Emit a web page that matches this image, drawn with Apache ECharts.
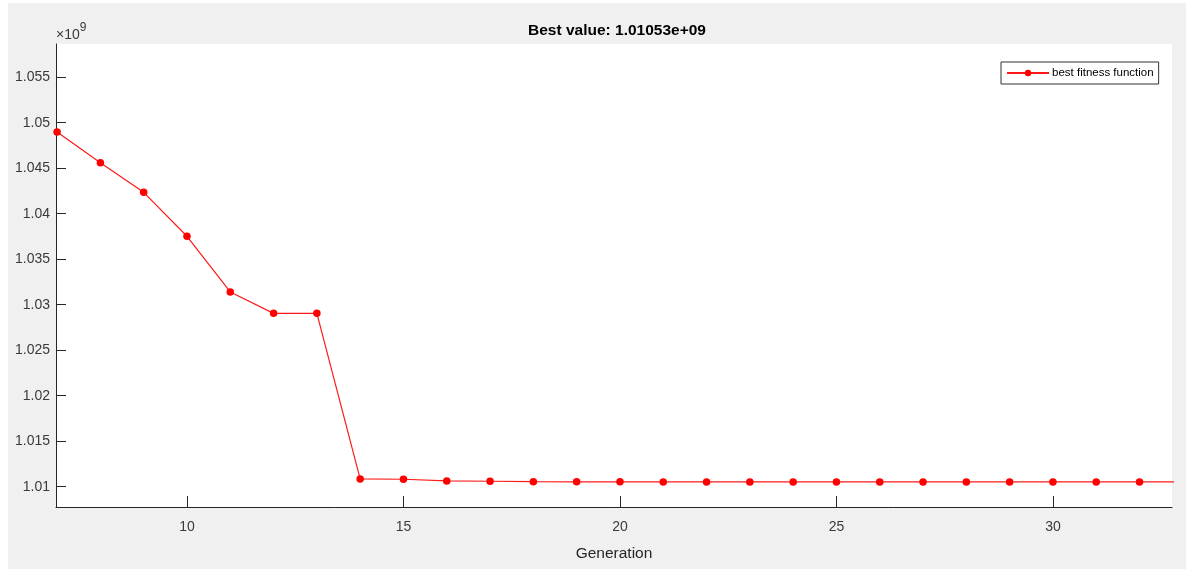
<!DOCTYPE html>
<html style="height: 100%">
<head>
<meta charset="utf-8">
<style>
body { margin: 0; background: #fff; }
#container { position: absolute; left: 8px; top: 3px; width: 1178px; height: 566px; }
</style>
</head>
<body>
<div id="container"></div>
<script src="https://cdn.jsdelivr.net/npm/echarts@6/dist/echarts.min.js"></script>
<script type="text/javascript">
// generation number and best fitness (in units of 1e9)
var generations = [7, 8, 9, 10, 11, 12, 13, 14, 15, 16, 17, 18, 19, 20, 21, 22, 23, 24, 25, 26, 27, 28, 29, 30, 31, 32, 33];
var bestFitness = [1.04898, 1.04560, 1.04235, 1.03752, 1.03140, 1.02905, 1.02905, 1.01085, 1.01082, 1.01063, 1.01060,
    1.01055, 1.01054, 1.01054, 1.01053, 1.01053, 1.01053, 1.01053, 1.01053, 1.01053, 1.01053, 1.01053, 1.01053,
    1.01053, 1.01053, 1.01053, 1.01053];
var xTicks = [10, 15, 20, 25, 30];
var yTicks = [1.01, 1.015, 1.02, 1.025, 1.03, 1.035, 1.04, 1.045, 1.05, 1.055];

var font = '"Liberation Sans", Arial, sans-serif';
var axisColor = '#262626';
var textColor = '#3a3a3a';

var data = generations.map(function (g, i) { return [g, bestFitness[i]]; });

var myChart = echarts.init(document.getElementById('container'));
var option = {
    backgroundColor: '#f0f0f0',
    animation: false,
    title: {
        text: 'Best value: 1.01053e+09',
        left: 604,
        top: 15,
        textAlign: 'center',
        textStyle: { fontFamily: font, fontSize: 15.5, fontWeight: 'bold', color: '#000' }
    },
    legend: {
        data: ['best fitness function'],
        left: 993,
        top: 59,
        backgroundColor: '#fff',
        borderColor: '#333',
        borderWidth: 1,
        borderRadius: 0,
        padding: [5, 5, 5, 5],
        itemWidth: 42,
        itemHeight: 8,
        itemGap: 3,
        textStyle: { fontFamily: font, fontSize: 11.5, color: '#000', padding: [0, 0, 0, -2] }
    },
    grid: { left: 48, right: 14, top: 41, bottom: 62, show: true, backgroundColor: '#fff', borderWidth: 0 },
    xAxis: {
        type: 'value',
        min: 6.975,
        max: 32.75,
        name: 'Generation',
        nameLocation: 'middle',
        nameGap: 39,
        nameTextStyle: { fontFamily: font, fontSize: 15.5, color: '#262626' },
        axisLine: { lineStyle: { color: axisColor, width: 1 } },
        axisTick: { inside: true, length: 11, customValues: xTicks, lineStyle: { color: axisColor } },
        axisLabel: { customValues: xTicks, margin: 13, fontFamily: font, fontSize: 14, color: textColor },
        splitLine: { show: false }
    },
    yAxis: {
        type: 'value',
        min: 1.00777,
        max: 1.05865,
        name: '{a|×10}{b|9}',
        nameLocation: 'end',
        nameGap: 2,
        nameTextStyle: {
            align: 'left',
            verticalAlign: 'bottom',
            rich: {
                a: { fontFamily: font, fontSize: 14, color: textColor, padding: [6, 0, 0, 0] },
                b: { fontFamily: font, fontSize: 12, color: textColor, verticalAlign: 'top' }
            }
        },
        axisLine: { show: true, lineStyle: { color: axisColor, width: 1 } },
        axisTick: { show: true, inside: true, length: 10, customValues: yTicks, lineStyle: { color: axisColor } },
        axisLabel: {
            customValues: yTicks,
            margin: 6,
            fontFamily: font,
            fontSize: 14,
            color: textColor,
            formatter: function (v) { return String(+v.toFixed(3)); }
        },
        splitLine: { show: false }
    },
    series: [{
        name: 'best fitness function',
        type: 'line',
        data: data,
        symbol: 'circle',
        symbolSize: 7.5,
        clip: true,
        itemStyle: { color: '#ff0000' },
        lineStyle: { color: '#ff1a1a', width: 1.2 }
    }]
};
myChart.setOption(option);
</script>
</body>
</html>
